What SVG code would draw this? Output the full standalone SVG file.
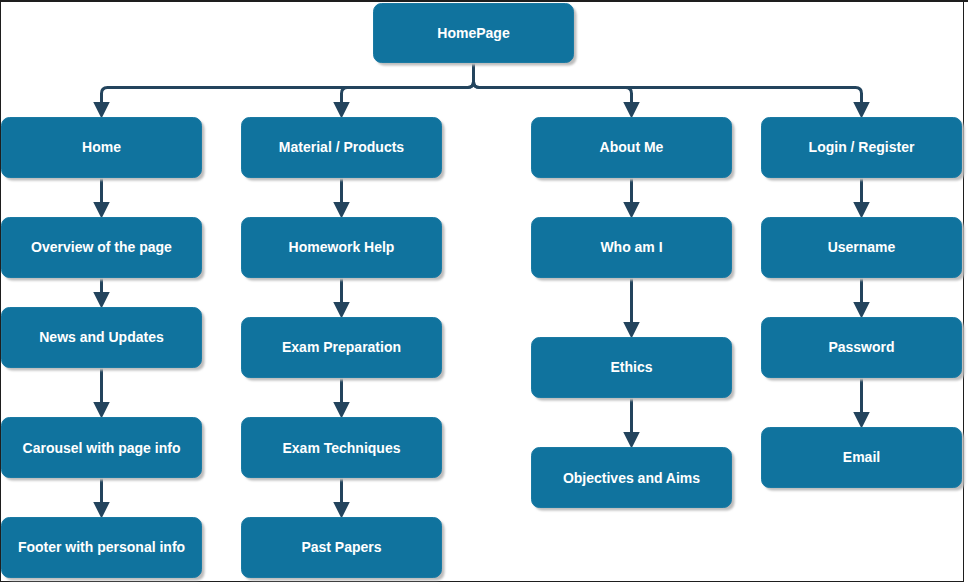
<svg xmlns="http://www.w3.org/2000/svg" width="968" height="583" viewBox="0 0 968 583">
<style>
.box{fill:#10739E;stroke:#1a7aa3;stroke-width:1}
.sh{fill:#bcbcbc}
.t{font-family:"Liberation Sans",Arial,Helvetica,sans-serif;font-weight:bold;font-size:14px;fill:#ffffff;text-anchor:middle}
.e{fill:none;stroke:#23445D;stroke-width:3;stroke-linejoin:round}
</style>
<defs>
<marker id="ar" markerUnits="userSpaceOnUse" markerWidth="17" markerHeight="17" viewBox="0 0 17 17" refX="12" refY="8.5" orient="auto">
<path d="M0,0 L17,8.5 L0,17 Z" fill="#23445D"/>
</marker>
<filter id="blur" x="-10%" y="-10%" width="120%" height="120%"><feGaussianBlur stdDeviation="0.8"/></filter>
</defs>
<rect x="0" y="0" width="968" height="583" fill="#ffffff"/>
<rect x="0.5" y="0.5" width="963" height="581" fill="none" stroke="#1e1e1e" stroke-width="1"/>
<line x1="0" y1="1" x2="968" y2="1" stroke="#1e1e1e" stroke-width="2"/>

<g id="connectors">
<path class="e" marker-end="url(#ar)" d="M473.5 62.5 V81.5 Q473.5 87.5 467.5 87.5 H107.5 Q101.5 87.5 101.5 93.5 V113.5"/>
<path class="e" marker-end="url(#ar)" d="M473.5 62.5 V81.5 Q473.5 87.5 467.5 87.5 H347.5 Q341.5 87.5 341.5 93.5 V113.5"/>
<path class="e" marker-end="url(#ar)" d="M473.5 62.5 V81.5 Q473.5 87.5 479.5 87.5 H625.5 Q631.5 87.5 631.5 93.5 V113.5"/>
<path class="e" marker-end="url(#ar)" d="M473.5 62.5 V81.5 Q473.5 87.5 479.5 87.5 H855.5 Q861.5 87.5 861.5 93.5 V113.5"/>

<path class="e" marker-end="url(#ar)" d="M101.5 177.5 V213.5"/>
<path class="e" marker-end="url(#ar)" d="M101.5 277.5 V303.5"/>
<path class="e" marker-end="url(#ar)" d="M101.5 367.5 V413.5"/>
<path class="e" marker-end="url(#ar)" d="M101.5 477.5 V513.5"/>

<path class="e" marker-end="url(#ar)" d="M341.5 177.5 V213.5"/>
<path class="e" marker-end="url(#ar)" d="M341.5 277.5 V313.5"/>
<path class="e" marker-end="url(#ar)" d="M341.5 377.5 V413.5"/>
<path class="e" marker-end="url(#ar)" d="M341.5 477.5 V513.5"/>

<path class="e" marker-end="url(#ar)" d="M631.5 177.5 V213.5"/>
<path class="e" marker-end="url(#ar)" d="M631.5 277.5 V333.5"/>
<path class="e" marker-end="url(#ar)" d="M631.5 397.5 V443.5"/>

<path class="e" marker-end="url(#ar)" d="M861.5 177.5 V213.5"/>
<path class="e" marker-end="url(#ar)" d="M861.5 277.5 V313.5"/>
<path class="e" marker-end="url(#ar)" d="M861.5 377.5 V423.5"/>
</g>

<g id="n-homepage"><rect class="sh" filter="url(#blur)" x="376.5" y="6.5" width="200" height="59" rx="8"/><rect class="box" x="373.5" y="3.5" width="200" height="59" rx="8"/><text class="t" x="473.5" y="38">HomePage</text></g>

<g id="n-home"><rect class="sh" filter="url(#blur)" x="4.5" y="120.5" width="200" height="60" rx="8"/><rect class="box" x="1.5" y="117.5" width="200" height="60" rx="8"/><text class="t" x="101.5" y="152">Home</text></g>
<g id="n-overview"><rect class="sh" filter="url(#blur)" x="4.5" y="220.5" width="200" height="60" rx="8"/><rect class="box" x="1.5" y="217.5" width="200" height="60" rx="8"/><text class="t" x="101.5" y="252">Overview of the page</text></g>
<g id="n-news"><rect class="sh" filter="url(#blur)" x="4.5" y="310.5" width="200" height="60" rx="8"/><rect class="box" x="1.5" y="307.5" width="200" height="60" rx="8"/><text class="t" x="101.5" y="342">News and Updates</text></g>
<g id="n-carousel"><rect class="sh" filter="url(#blur)" x="4.5" y="420.5" width="200" height="60" rx="8"/><rect class="box" x="1.5" y="417.5" width="200" height="60" rx="8"/><text class="t" x="101.5" y="453">Carousel with page info</text></g>
<g id="n-footer"><rect class="sh" filter="url(#blur)" x="4.5" y="520.5" width="200" height="60" rx="8"/><rect class="box" x="1.5" y="517.5" width="200" height="60" rx="8"/><text class="t" x="101.5" y="552">Footer with personal info</text></g>

<g id="n-material"><rect class="sh" filter="url(#blur)" x="244.5" y="120.5" width="200" height="60" rx="8"/><rect class="box" x="241.5" y="117.5" width="200" height="60" rx="8"/><text class="t" x="341.5" y="152">Material / Products</text></g>
<g id="n-homework"><rect class="sh" filter="url(#blur)" x="244.5" y="220.5" width="200" height="60" rx="8"/><rect class="box" x="241.5" y="217.5" width="200" height="60" rx="8"/><text class="t" x="341.5" y="252">Homework Help</text></g>
<g id="n-examprep"><rect class="sh" filter="url(#blur)" x="244.5" y="320.5" width="200" height="60" rx="8"/><rect class="box" x="241.5" y="317.5" width="200" height="60" rx="8"/><text class="t" x="341.5" y="352">Exam Preparation</text></g>
<g id="n-examtech"><rect class="sh" filter="url(#blur)" x="244.5" y="420.5" width="200" height="60" rx="8"/><rect class="box" x="241.5" y="417.5" width="200" height="60" rx="8"/><text class="t" x="341.5" y="453">Exam Techniques</text></g>
<g id="n-pastpapers"><rect class="sh" filter="url(#blur)" x="244.5" y="520.5" width="200" height="60" rx="8"/><rect class="box" x="241.5" y="517.5" width="200" height="60" rx="8"/><text class="t" x="341.5" y="552">Past Papers</text></g>

<g id="n-about"><rect class="sh" filter="url(#blur)" x="534.5" y="120.5" width="200" height="60" rx="8"/><rect class="box" x="531.5" y="117.5" width="200" height="60" rx="8"/><text class="t" x="631.5" y="152">About Me</text></g>
<g id="n-whoami"><rect class="sh" filter="url(#blur)" x="534.5" y="220.5" width="200" height="60" rx="8"/><rect class="box" x="531.5" y="217.5" width="200" height="60" rx="8"/><text class="t" x="631.5" y="252">Who am I</text></g>
<g id="n-ethics"><rect class="sh" filter="url(#blur)" x="534.5" y="340.5" width="200" height="60" rx="8"/><rect class="box" x="531.5" y="337.5" width="200" height="60" rx="8"/><text class="t" x="631.5" y="372">Ethics</text></g>
<g id="n-objectives"><rect class="sh" filter="url(#blur)" x="534.5" y="450.5" width="200" height="60" rx="8"/><rect class="box" x="531.5" y="447.5" width="200" height="60" rx="8"/><text class="t" x="631.5" y="483">Objectives and Aims</text></g>

<g id="n-login"><rect class="sh" filter="url(#blur)" x="764.5" y="120.5" width="200" height="60" rx="8"/><rect class="box" x="761.5" y="117.5" width="200" height="60" rx="8"/><text class="t" x="861.5" y="152">Login / Register</text></g>
<g id="n-username"><rect class="sh" filter="url(#blur)" x="764.5" y="220.5" width="200" height="60" rx="8"/><rect class="box" x="761.5" y="217.5" width="200" height="60" rx="8"/><text class="t" x="861.5" y="252">Username</text></g>
<g id="n-password"><rect class="sh" filter="url(#blur)" x="764.5" y="320.5" width="200" height="60" rx="8"/><rect class="box" x="761.5" y="317.5" width="200" height="60" rx="8"/><text class="t" x="861.5" y="352">Password</text></g>
<g id="n-email"><rect class="sh" filter="url(#blur)" x="764.5" y="430.5" width="200" height="60" rx="8"/><rect class="box" x="761.5" y="427.5" width="200" height="60" rx="8"/><text class="t" x="861.5" y="462">Email</text></g>
</svg>
